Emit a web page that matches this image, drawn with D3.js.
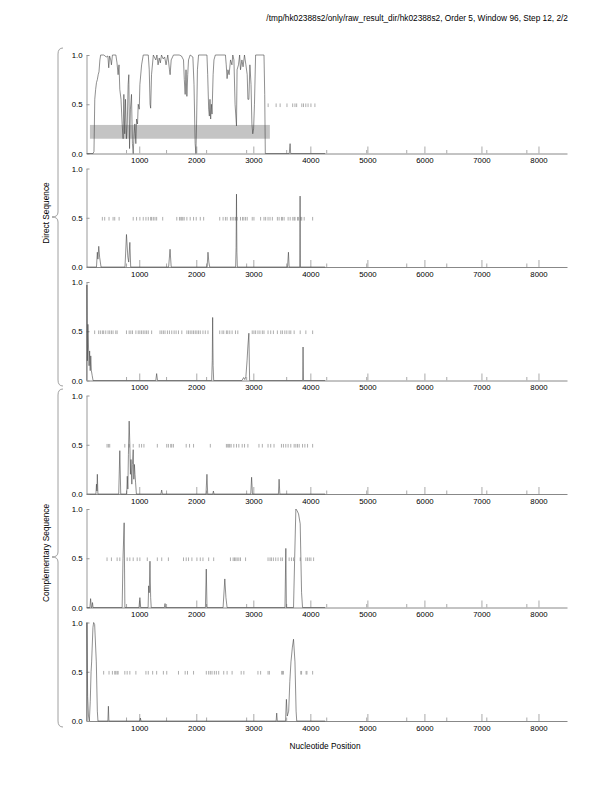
<!DOCTYPE html>
<html>
<head>
<meta charset="utf-8">
<script src="https://cdn.jsdelivr.net/npm/d3@7"></script>
<style>
  body { margin: 0; background: #fff; }
  text { font-family: "Liberation Sans", Arial, Helvetica, sans-serif; }
</style>
</head>
<body>
<svg id="chart" width="612" height="792"></svg>
<script>
// coding potential per frame, [nucleotide, value]
const frame1 = [[80,0],[190,0],[206,0.02],[220,0.55],[235,0.65],[250,0.72],[265,0.75],[280,0.8],[294,0.83],[310,0.95],[323,1.0],[380,1.0],[420,0.98],[450,0.99],[465,0.87],[480,0.99],[500,0.95],[512,0.9],[530,1.0],[590,1.0],[610,0.92],[629,0.8],[645,0.9],[659,0.65],[680,0.55],[700,0.3],[717,0.15],[730,0.6],[745,0.2],[759,0.55],[775,0.15],[790,0.3],[805,0.7],[817,0.8],[830,0.05],[845,0.45],[864,0.6],[880,0.1],[894,0],[910,0.2],[923,0.3],[940,0.1],[953,0.35],[970,0.3],[982,0.5],[1000,0.45],[1011,0.7],[1041,0.9],[1070,1.0],[1158,1.0],[1175,0.85],[1190,0.5],[1200,0.46],[1215,0.8],[1247,1.0],[1290,0.95],[1310,1.0],[1330,0.9],[1350,0.97],[1370,0.92],[1390,1.0],[1420,0.96],[1445,0.98],[1470,0.9],[1500,1.0],[1530,0.85],[1541,0.8],[1560,0.95],[1600,1.0],[1700,1.0],[1740,0.99],[1776,0.95],[1790,0.75],[1805,0.6],[1820,0.85],[1835,0.58],[1850,0.8],[1864,0.95],[1893,1.0],[1940,0.98],[1960,0.7],[1980,0.1],[1993,0],[2005,0.3],[2020,0.85],[2040,1.0],[2187,1.0],[2200,0.8],[2217,0.45],[2229,0.38],[2240,0.55],[2252,0.35],[2265,0.5],[2276,0.4],[2295,0.8],[2310,0.95],[2334,1.0],[2511,1.0],[2525,0.9],[2540,0.76],[2555,0.85],[2575,0.8],[2600,0.95],[2625,0.9],[2640,1.0],[2660,0.95],[2680,0.5],[2705,0.28],[2715,0.85],[2740,0.9],[2760,1.0],[2775,0.85],[2800,0.95],[2820,0.88],[2845,1.0],[2870,0.9],[2893,0.8],[2905,0.55],[2922,0.55],[2940,0.9],[2960,0.7],[2975,0.3],[2990,0.2],[3005,0.25],[3020,0.5],[3040,1.0],[3187,1.0],[3200,0.6],[3210,0],[3630,0],[3645,0.1],[3655,0],[4260,0]];
const frame2 = [[80,0],[250,0],[265,0.15],[275,0.08],[290,0.21],[305,0.1],[330,0],[750,0],[776,0.33],[800,0.1],[815,0.05],[835,0.25],[850,0],[1515,0],[1540,0.18],[1560,0],[2190,0],[2205,0.15],[2220,0.05],[2235,0],[2690,0],[2698,0.2],[2705,0.74],[2712,0.15],[2720,0],[3600,0],[3616,0.15],[3628,0],[3814,0],[3820,0.72],[3826,0],[4260,0]];
const frame3 = [[80,0],[82,0.97],[90,0.2],[100,0.57],[110,0.35],[120,0.15],[130,0.3],[140,0.1],[150,0.25],[160,0.1],[175,0.05],[190,0],[1290,0],[1305,0.07],[1320,0],[2270,0],[2280,0.2],[2287,0.64],[2295,0.15],[2305,0],[2800,0],[2830,0.03],[2850,0.01],[2870,0.04],[2890,0.2],[2905,0.35],[2922,0.48],[2935,0],[3865,0],[3872,0.34],[3880,0],[4260,0]];
const frame4 = [[80,0],[240,0],[250,0.1],[258,0.03],[265,0.2],[275,0],[640,0],[659,0.44],[675,0],[780,0],[790,0.18],[800,0.05],[810,0.4],[823,0.74],[835,0.5],[845,0.2],[855,0.35],[870,0.1],[880,0.3],[894,0.45],[905,0.15],[915,0.3],[925,0.2],[935,0.12],[950,0],[1380,0],[1393,0.04],[1405,0],[2170,0],[2187,0.2],[2200,0],[2290,0],[2300,0.03],[2310,0],[2955,0],[2970,0.17],[2985,0],[3440,0],[3452,0.15],[3465,0],[4260,0]];
const frame5 = [[80,0],[135,0],[147,0.09],[160,0],[170,0],[180,0.05],[190,0],[700,0],[715,0.5],[735,0.86],[748,0],[995,0],[1011,0.1],[1025,0],[1155,0],[1165,0.22],[1175,0.15],[1188,0.47],[1200,0.1],[1210,0],[1440,0],[1452,0.04],[1462,0],[2160,0],[2175,0.39],[2188,0],[2470,0],[2500,0.29],[2520,0.1],[2540,0],[3555,0],[3570,0.6],[3580,0],[3705,0],[3725,0.5],[3746,1.0],[3770,0.98],[3793,0.95],[3822,0.85],[3846,0.15],[3863,0],[4260,0]];
const frame6 = [[80,0],[82,1.0],[95,0.25],[110,0.05],[125,0],[141,0.2],[155,0.5],[165,0.6],[188,0.95],[200,1.0],[218,0.98],[247,0.6],[265,0.1],[276,0],[450,0],[459,0.15],[468,0],[1010,0],[1020,0.03],[1030,0],[3400,0],[3410,0.08],[3420,0],[3565,0],[3580,0.22],[3595,0.05],[3620,0.1],[3640,0.4],[3660,0.6],[3685,0.75],[3705,0.83],[3730,0.6],[3750,0.1],[3761,0],[4260,0]];

// stop codon positions per frame
const stops1 = [3260,3400,3470,3590,3690,3730,3760,3850,3880,3920,3960,4010,4080];
const stops2 = [353,394,470,541,570,647,894,953,1011,1070,1117,1158,1200,1217,1247,1276,1305,1411,1658,1705,1729,1746,1764,1788,1835,1893,1952,1999,2070,2129,2411,2470,2511,2540,2599,2628,2658,2687,2717,2775,2811,2834,2864,2893,2981,3011,3128,3187,3216,3258,3293,3334,3422,3452,3493,3510,3540,3610,3646,3692,3716,3731,3775,3790,3834,3849,3892,4040];
const stops3 = [218,288,318,353,376,412,453,482,512,541,588,612,776,823,853,882,941,982,1011,1041,1070,1100,1129,1158,1217,1364,1394,1423,1452,1494,1529,1570,1611,1646,1688,1746,1835,1864,1893,1923,1952,1982,2011,2040,2070,2117,2158,2205,2411,2452,2481,2528,2552,2587,2628,2687,2728,2981,3011,3040,3081,3116,3158,3187,3258,3305,3352,3422,3481,3510,3552,3587,3628,3657,3716,3822,3921,4040];
const stops4 = [435,459,482,747,823,894,1000,1041,1082,1317,1482,1511,1552,1570,1599,1823,1882,1952,2246,2528,2552,2570,2587,2611,2658,2705,2746,2805,2846,2905,3099,3158,3258,3305,3363,3493,3528,3569,3610,3657,3716,3746,3775,3804,3863,3904,3951,4040];
const stops5 = [435,512,612,659,788,835,894,964,1011,1141,1317,1394,1511,1776,1823,1864,1923,2011,2070,2117,2217,2305,2599,2646,2670,2693,2717,2746,2775,2864,3258,3293,3317,3352,3393,3434,3481,3510,3628,3669,3704,3822,3921,3951,3981,4010,4057];
const stops6 = [376,470,529,570,588,612,629,747,788,835,941,1117,1158,1235,1305,1423,1482,1688,1805,1846,1952,2176,2217,2246,2276,2317,2352,2393,2481,2540,2628,2787,2834,3081,3128,3258,3281,3498,3510,3528,3832,3846,3925,3940,4040];

// predicted gene region in frame 1: [start, end, low, high]
const genes1 = [[135, 3290, 0.15, 0.29]];

const xTicks = [1000, 2000, 3000, 4000, 5000, 6000, 7000, 8000];
const xMinorTicks = [777, 1479, 2181, 2883, 3585, 4287, 4988, 5690, 6392, 7094, 7796];
const yTicks = [0, 0.5, 1.0];
const groupLabels = ["Direct Sequence", "Complementary Sequence"];
const title = "/tmp/hk02388s2/only/raw_result_dir/hk02388s2, Order 5, Window 96, Step 12, 2/2";

const frames = [frame1, frame2, frame3, frame4, frame5, frame6];
const stops = [stops1, stops2, stops3, stops4, stops5, stops6];

const svg = d3.select("#chart");
svg.append("rect").attr("width", 612).attr("height", 792).attr("fill", "#fff");

const left = 86.5, right = 567;
const panelTop = 55, panelStep = 113.5, panelH = 98.5;

const x = d3.scaleLinear().domain([75, 8500]).range([left, right]);

frames.forEach((data, i) => {
  const top = panelTop + i * panelStep;
  const y = d3.scaleLinear().domain([0, 1]).range([top + panelH, top]);
  const g = svg.append("g");

  if (i === 0) {
    g.selectAll("rect.gene")
      .data(genes1)
      .enter()
      .append("rect")
      .attr("x", (d) => x(d[0]))
      .attr("width", (d) => x(d[1]) - x(d[0]))
      .attr("y", (d) => y(d[3]))
      .attr("height", (d) => y(d[2]) - y(d[3]))
      .attr("fill", "#c4c4c4");
  }

  // x axis
  const xAxis = g.append("g")
    .attr("transform", `translate(0,${top + panelH})`)
    .call(d3.axisBottom(x).tickValues(xTicks).tickSizeInner(-7).tickSizeOuter(0).tickPadding(4).tickFormat(d3.format("d")));
  xAxis.select(".domain").attr("stroke", "#888");
  xAxis.selectAll(".tick line").attr("stroke", "#aaa");
  xAxis.selectAll(".tick text").attr("font-size", 7.8).attr("fill", "#000")
    .attr("font-family", "'Liberation Sans', Arial, sans-serif");

  g.selectAll("line.minor")
    .data(xMinorTicks)
    .enter()
    .append("line")
    .attr("x1", (d) => x(d)).attr("x2", (d) => x(d))
    .attr("y1", top + panelH).attr("y2", top + panelH - 3.5)
    .attr("stroke", "#aaa");

  // y axis
  const yAxis = g.append("g")
    .attr("transform", `translate(${left},0)`)
    .call(d3.axisLeft(y).tickValues(yTicks).tickSizeInner(-3).tickSizeOuter(0).tickPadding(4).tickFormat(d3.format(".1f")));
  yAxis.select(".domain").attr("stroke", "#999");
  yAxis.selectAll(".tick line").attr("stroke", "#999");
  yAxis.selectAll(".tick text").attr("font-size", 7.8).attr("fill", "#000")
    .attr("font-family", "'Liberation Sans', Arial, sans-serif");

  // stop codons
  g.selectAll("line.stop")
    .data(stops[i])
    .enter()
    .append("line")
    .attr("x1", (d) => x(d)).attr("x2", (d) => x(d))
    .attr("y1", y(0.5) - 0.8).attr("y2", y(0.5) + 2.8)
    .attr("stroke", "#999")
    .attr("stroke-width", 0.8);

  const line = d3.line().x((d) => x(d[0])).y((d) => y(d[1]));
  g.append("path")
    .datum(data)
    .attr("d", line)
    .attr("fill", "none")
    .attr("stroke", "#444")
    .attr("stroke-width", 0.6);
});

// braces
function brace(yTop, yBottom, yTip) {
  const bx = 58, ex = 63, tx = 52;
  return `M${ex},${yTop} Q${bx},${yTop} ${bx},${yTop + 6}` +
    ` L${bx},${yTip - 5} Q${bx},${yTip} ${tx},${yTip}` +
    ` Q${bx},${yTip} ${bx},${yTip + 5}` +
    ` L${bx},${yBottom - 6} Q${bx},${yBottom} ${ex},${yBottom}`;
}
const braces = [[48, 386, 217], [389, 727, 557]];
svg.selectAll("path.brace")
  .data(braces)
  .enter()
  .append("path")
  .attr("d", (d) => brace(d[0], d[1], d[2]))
  .attr("fill", "none")
  .attr("stroke", "#888")
  .attr("stroke-width", 0.8);

svg.selectAll("text.group")
  .data(groupLabels)
  .enter()
  .append("text")
  .attr("transform", (d, i) => `translate(48.5,${braces[i][2] - 4}) rotate(-90)`)
  .attr("text-anchor", "middle")
  .attr("font-size", 8.3)
  .text((d) => d);

svg.append("text")
  .attr("x", 325).attr("y", 749)
  .attr("text-anchor", "middle")
  .attr("font-size", 8.3)
  .text("Nucleotide Position");

svg.append("text")
  .attr("x", 568).attr("y", 21)
  .attr("text-anchor", "end")
  .attr("font-size", 8.3)
  .text(title);
</script>
</body>
</html>
